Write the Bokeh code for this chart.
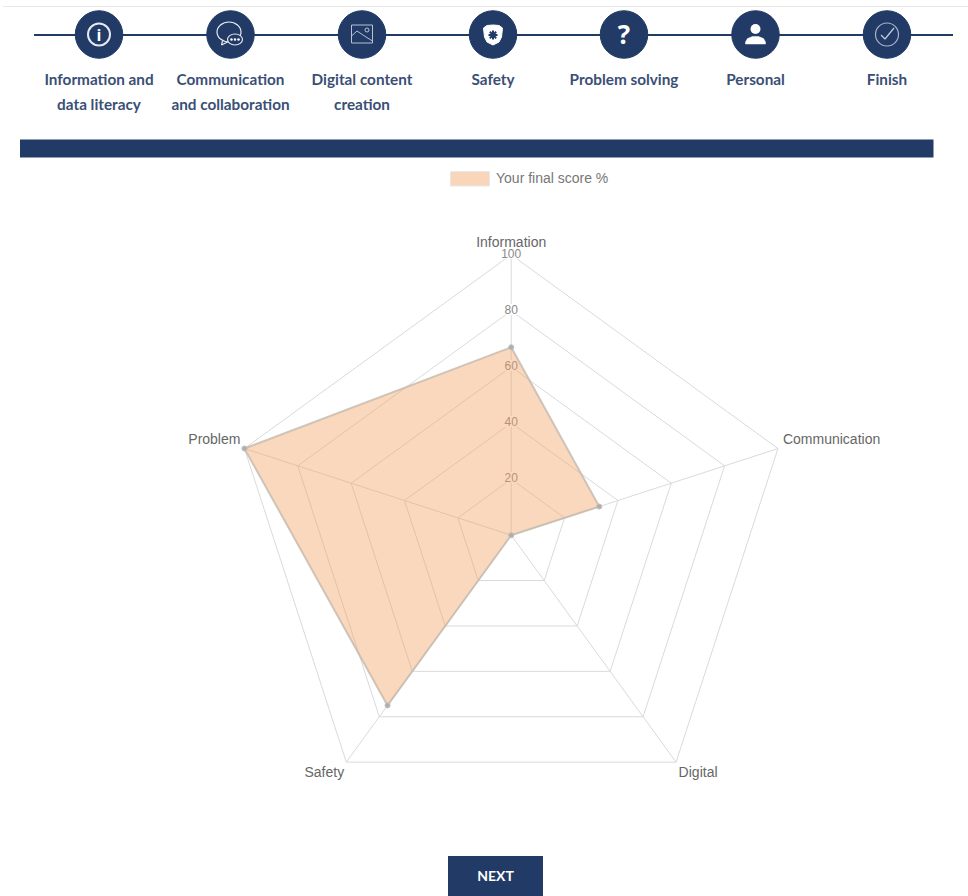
import math
from bokeh.embed import file_html
from bokeh.models import Range1d
from bokeh.plotting import figure
from bokeh.resources import INLINE
from bokeh.core.properties import value

# ---- data ----
categories = ["Information", "Communication", "Digital", "Safety", "Problem"]
scores = [67, 33, 0, 75, 100]
ticks = [20, 40, 60, 80, 100]
series_name = "Your final score %"
steps = [["Information and", "data literacy"], ["Communication", "and collaboration"],
         ["Digital content", "creation"], ["Safety"], ["Problem solving"], ["Personal"], ["Finish"]]
button_label = "NEXT"

NAVY = "#213A66"
W, H = 968, 896
CX, CY, SCALE = 510.7, 534.7, 2.805   # page px of the radar centre, px per score unit

p = figure(width=W, height=H, output_backend="svg", toolbar_location=None, min_border=0,
           x_range=Range1d((0 - CX) / SCALE, (W - CX) / SCALE),
           y_range=Range1d((CY - H) / SCALE, CY / SCALE))
p.axis.visible = False
p.grid.visible = False
p.outline_line_color = None
p.background_fill_color = "white"
p.border_fill_color = "white"

# page-pixel coordinate system for the page furniture
p.extra_x_ranges = {"page": Range1d(0.5, W + 0.5)}
p.extra_y_ranges = {"page": Range1d(H + 0.5, 0.5)}
PG = dict(x_range_name="page", y_range_name="page")
HEAD = value("Lato")
ARIAL = value("Liberation Sans")


def polar(vals):
    n = len(vals)
    xs = [v * math.sin(2 * math.pi * i / n) for i, v in enumerate(vals)]
    ys = [v * math.cos(2 * math.pi * i / n) for i, v in enumerate(vals)]
    return xs, ys


# ---- radar grid ----
GRID = "#DADADA"
for t in ticks:
    xs, ys = polar([t] * len(categories))
    p.line(xs + xs[:1], ys + ys[:1], line_color=GRID, line_width=1)
vx, vy = polar([ticks[-1]] * len(categories))
for x, y in zip(vx, vy):
    p.line([0, x], [0, y], line_color=GRID, line_width=1)

# tick labels with a white backdrop
p.text([0] * len(ticks), ticks, text=[str(t) for t in ticks], text_font=ARIAL, text_font_size="12px",
       text_color="#888888", text_align="center", text_baseline="middle", y_offset=-1.5,
       background_fill_color="white", padding=1)

# category labels
offsets = [(0, -13, "center"), (5, -10, "left"), (22, 10, "center"), (-22, 10, "center"), (-4, -10, "right")]
for c, x, y, (dx, dy, al) in zip(categories, vx, vy, offsets):
    p.text([x], [y], text=[c], x_offset=dx, y_offset=dy, text_font=ARIAL, text_font_size="14px",
           text_color="#666666", text_align=al, text_baseline="middle")

# ---- the series ----
sx, sy = polar(scores)
p.patch(sx + sx[:1], sy + sy[:1], fill_color="#F2A365", fill_alpha=0.42,
        line_color="#C4B9AC", line_width=2, line_alpha=0.8)
p.scatter(sx, sy, size=5, fill_color="#ABABAB", line_color="#BDBDBD", fill_alpha=0.9)

# ---- page header ----
p.line([3, 968], [6.5, 6.5], line_color="#E8E8E8", line_width=1, **PG)
centers = [99, 230.5, 362, 493, 624, 755.5, 887]
p.line([34, 953], [35, 35], line_color=NAVY, line_width=2, **PG)
p.scatter(centers, [34.5] * 7, size=47.5, fill_color=NAVY, line_color=NAVY, **PG)
for cx, lines in zip(centers, steps):
    for i, t in enumerate(lines):
        p.text([cx], [79 + i * 25], text=[t], text_font=HEAD, text_font_size="15.3px", text_font_style="bold",
               text_color="#3A4F75", text_align="center", text_baseline="middle", **PG)

# icons
ICON = "#E6EAF0"
c = centers[0]
p.scatter([c], [34.5], size=22, fill_color=None, line_color=ICON, line_width=2, **PG)
p.text([c], [35], text=["i"], text_font=value("Open Sans"), text_font_style="bold", text_font_size="16px",
       text_color="white", text_align="center", text_baseline="middle", **PG)

c = centers[1]
p.ellipse([c - 1.5], [32], width=24, height=20, fill_color=None, line_color=ICON, line_width=1.2, **PG)
p.line([c - 8, c - 9, c - 3], [41, 45, 42], line_color=ICON, line_width=1.2, **PG)
p.ellipse([c + 4.5], [39.5], width=15, height=11, fill_color=NAVY, line_color=ICON, line_width=1.2, **PG)
p.scatter([c + 1, c + 4.5, c + 8], [39.5] * 3, size=2.6, fill_color="white", line_color=None, **PG)

c = centers[2]
p.line([c - 10.5, c + 10.5, c + 10.5, c - 10.5, c - 10.5], [25, 25, 43, 43, 25], line_color="#B9C2D2", line_width=1, **PG)
p.line([c - 10.5, c - 5, c + 1, c + 4, c + 10.5], [36, 31, 35, 37, 41], line_color="#B9C2D2", line_width=1, **PG)
p.scatter([c + 5], [30], size=4, fill_color=None, line_color="#B9C2D2", line_width=1, **PG)

c = centers[3]
p.patch([c - 9.5, c - 6, c, c + 6, c + 9.5, c + 8.5, c + 6, c, c - 6, c - 8.5],
        [28, 25.5, 25, 25.5, 28, 37, 42, 45, 42, 37], fill_color="white", line_color="white", **PG)
p.scatter([c], [35], marker="asterisk", size=9, line_color=NAVY, line_width=2, **PG)

c = centers[4]
p.text([c], [34], text=["?"], text_font=value("Open Sans"), text_font_style="bold", text_font_size="26px",
       text_color="white", text_align="center", text_baseline="middle", **PG)

c = centers[5]
p.scatter([c], [29], size=10, fill_color="white", line_color=None, **PG)
p.patch([c - 10, c - 8, c - 3, c + 3, c + 8, c + 10, c + 10, c - 10],
        [42, 38.5, 36.5, 36.5, 38.5, 42, 44, 44], fill_color="white", line_color="white", line_width=0.5, **PG)

c = centers[6]
p.scatter([c], [34.5], size=23, fill_color=None, line_color="#A9B5C8", line_width=1.2, **PG)
p.line([c - 6, c - 2, c + 7], [35, 39, 28], line_color="#C3CCD9", line_width=1.2, **PG)

# bar under the steps
p.quad(left=[20], right=[933.5], top=[139.5], bottom=[157.5], fill_color=NAVY, line_color=None, **PG)

# legend
p.quad(left=[450.5], right=[489.5], top=[171.5], bottom=[186], fill_color="#F9D5B9", line_color="#E8E8E8", line_width=1, **PG)
p.text([496], [177.5], text=[series_name], text_font=ARIAL, text_font_size="14px", text_color="#777777",
       text_align="left", text_baseline="middle", **PG)

# button
p.quad(left=[448], right=[543], top=[856], bottom=[897], fill_color=NAVY, line_color=None, **PG)
p.text([495.5], [875.5], text=[button_label], text_font=HEAD, text_font_size="14px", text_font_style="bold",
       text_color="white", text_align="center", text_baseline="middle", **PG)

open("out.html", "w").write(file_html(p, INLINE))
